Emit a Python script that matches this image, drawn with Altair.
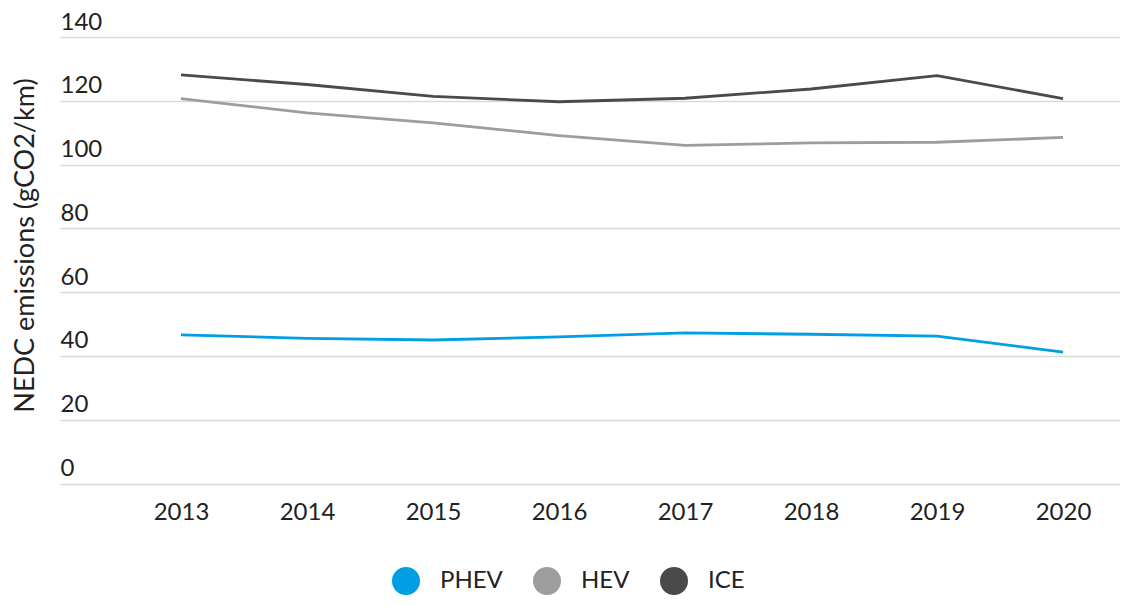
import altair as alt
import pandas as pd

years = [2013, 2014, 2015, 2016, 2017, 2018, 2019, 2020]
phev = [46.6, 45.5, 45.0, 46.0, 47.2, 46.8, 46.2, 41.2]
hev = [120.7, 116.2, 113.1, 109.1, 106.0, 106.8, 107.0, 108.5]
ice = [128.1, 125.1, 121.4, 119.7, 120.8, 123.7, 127.9, 120.7]
series = ["PHEV", "HEV", "ICE"]
colors = ["#009fe3", "#9d9d9d", "#4a4a4a"]
y_ticks = [0, 20, 40, 60, 80, 100, 120, 140]

rows = []
for name, vals in zip(series, [phev, hev, ice]):
    for yr, v in zip(years, vals):
        rows.append({"year": yr, "value": v, "type": name})
df = pd.DataFrame(rows)

FONT = "Lato"
TXT = "#222222"

chart = alt.Chart(df).mark_line(strokeWidth=2.8).encode(
    x=alt.X("year:Q",
            scale=alt.Scale(domain=[2012.04, 2020.452], nice=False, zero=False),
            axis=alt.Axis(values=years, format="d", title=None, grid=False,
                          domain=False, ticks=False, labelPadding=17,
                          labelFlush=False, labelFontSize=24, labelFont=FONT,
                          labelColor=TXT)),
    y=alt.Y("value:Q",
            scale=alt.Scale(domain=[0, 140], nice=False),
            axis=alt.Axis(values=y_ticks, title="NEDC emissions (gCO2/km)",
                          grid=True, gridColor="#d9d9d9", gridWidth=1.5,
                          domain=False, ticks=False, labelAlign="left",
                          labelBaseline="alphabetic", labelPadding=0,
                          labelOffset=-8, labelFlush=False, labelFontSize=24,
                          labelFont=FONT, labelColor=TXT,
                          titleFont=FONT, titleFontSize=27, titleFontWeight="normal",
                          titleColor=TXT, titleX=-35, titleY=208,
                          titleAngle=270, titleAlign="center",
                          titleBaseline="middle")),
    color=alt.Color("type:N",
                    scale=alt.Scale(domain=series, range=colors),
                    legend=alt.Legend(title=None, orient="none",
                                      direction="horizontal",
                                      legendX=332, legendY=530,
                                      symbolType="circle", symbolSize=196,
                                      symbolStrokeWidth=14, symbolOpacity=1,
                                      labelFont=FONT, labelFontSize=24,
                                      labelColor=TXT, labelOffset=20,
                                      columnPadding=9, padding=0)),
).properties(
    width=1060,
    height=446.5,
    autosize=alt.AutoSizeParams(type="none"),
    padding={"left": 52, "top": 29, "right": 0, "bottom": 114},
).configure_view(stroke=None)

chart.save("out.html", embed_options={"renderer": "svg", "actions": False})
